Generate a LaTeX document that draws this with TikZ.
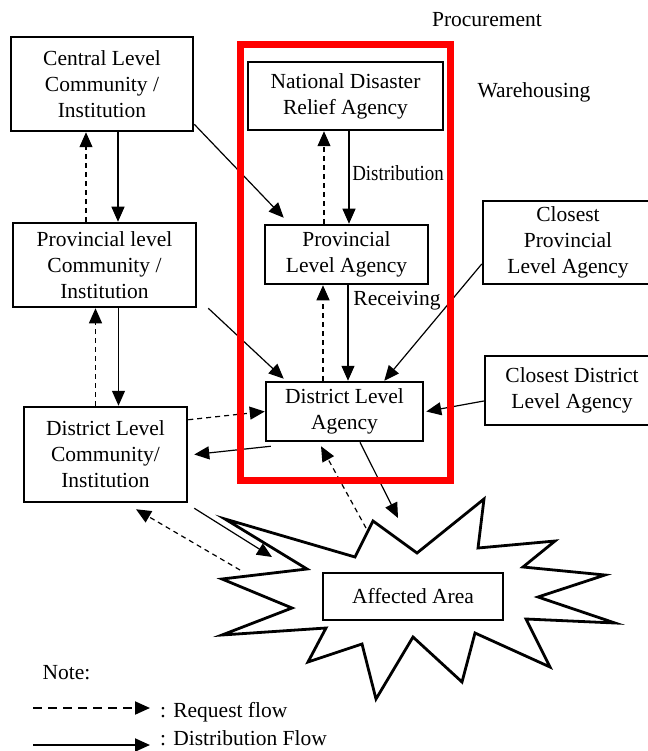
\documentclass[tikz,border=0pt]{standalone}
\usepackage{fontspec}
\setmainfont{Liberation Serif}
\usetikzlibrary{arrows.meta}

\begin{document}
\begin{tikzpicture}[x=1pt, y=-1pt,
    every node/.style={font=\fontsize{21.5}{26}\selectfont},
    agency/.style={draw, line width=2.5pt, align=center, inner sep=0pt},
    flow/.style={line width=1.2pt, -{Triangle[length=15pt, width=13pt]}},
    request/.style={flow, dash pattern=on 5pt off 4pt}]
    % Fixed frame
    \useasboundingbox (0,0) rectangle (647,751);

    % Create nodes
    \node[agency, minimum width=182pt, minimum height=94pt] (central) at (102,84) {Central Level\\Community /\\Institution};
    \node[agency, minimum width=183pt, minimum height=84pt] (provcom) at (104.5,265) {Provincial level\\Community /\\Institution};
    \node[agency, minimum width=163pt, minimum height=95pt] (distcom) at (105.5,454.5) {District Level\\Community/\\Institution};
    \node[agency, minimum width=195pt, minimum height=68pt] (ndra) at (345.5,96) {National Disaster\\Relief Agency};
    \node[agency, minimum width=163pt, minimum height=59pt] (provag) at (346.5,254.5) {Provincial\\Level Agency};
    \node[agency, minimum width=157pt, minimum height=59pt] (distag) at (344.5,411.5) {District Level\\Agency};
    \node[agency, minimum width=170pt, minimum height=83pt] (closeprov) at (568,242.5) {Closest\\Provincial\\Level Agency};
    \node[agency, minimum width=174pt, minimum height=69pt] (closedist) at (572,390.5) {Closest District\\Level Agency};

    \node (procure) at (487,20) {Procurement};
    \node (warehouse) at (534,92) {Warehousing};
    \node (distlab) at (398,173) {\scalebox{0.88}[1]{Distribution}};
    \node (recvlab) at (397,301) {Receiving};

    % Affected area
    \draw[line width=2.8pt] (484,499) -- (478,548) -- (555,541) -- (523,567) -- (605,575)
        -- (538,597) -- (615,623) -- (526,619) -- (550,667) -- (475,633) -- (462,682)
        -- (413,637) -- (376,699) -- (362,644) -- (308,662) -- (326,628) -- (222,635)
        -- (292,608) -- (222,579) -- (307,569) -- (225,519) -- (355,557) -- (373,521)
        -- (417,553) -- cycle;
    \node[agency, minimum width=180pt, minimum height=47pt] (affected) at (413,596.5) {Affected Area};
    \coordinate (reqA) at (366,528);
    \coordinate (flowA) at (398,518);
    \coordinate (flowB) at (272,557);
    \coordinate (reqB) at (240,570);

    % Connections
    \draw[flow] ([xshift=16pt]central.south) -- ([xshift=16pt]central.south |- provcom.north);
    \draw[request] ([xshift=-16pt]central.south |- provcom.north) -- ([xshift=-16pt]central.south);
    \draw[flow] ([xshift=14pt]provcom.south) -- ([xshift=14pt]provcom.south |- distcom.north);
    \draw[request] ([xshift=-9pt]provcom.south |- distcom.north) -- ([xshift=-9pt]provcom.south);
    \draw[flow] ([yshift=8pt]central.south east) -- ([xshift=20pt,yshift=6pt]provag.north west);
    \draw[flow] ([xshift=3.5pt]ndra.south) -- ([xshift=3.5pt]ndra.south |- provag.north);
    \draw[request] ([xshift=-21.5pt]ndra.south |- provag.north) -- ([xshift=-21.5pt]ndra.south);
    \draw[flow] ([xshift=1.5pt]provag.south) -- ([xshift=1.5pt]provag.south |- distag.north);
    \draw[request] ([xshift=-23.5pt]provag.south |- distag.north) -- ([xshift=-23.5pt]provag.south);
    \draw[flow] ([xshift=11pt]provcom.south east) -- ([xshift=19pt,yshift=2pt]distag.north west);
    \draw[flow] ([yshift=-21.5pt]closeprov.west) -- ([xshift=-40pt]distag.north east);
    \draw[flow] ([yshift=-10.5pt]closedist.west) -- ([xshift=2pt]distag.east);
    \draw[request] ([yshift=-14pt]distcom.north east) -- (distag.west);
    \draw[flow] ([xshift=6pt,yshift=-4pt]distag.south west) -- ([xshift=6pt]distcom.east);
    \draw[request] (reqA) -- ([xshift=-23.5pt,yshift=-4pt]distag.south);
    \draw[flow] ([xshift=15.5pt]distag.south) -- (flowA);
    \draw[flow] ([xshift=6pt,yshift=-5pt]distcom.south east) -- (flowB);
    \draw[request] (reqB) -- ([xshift=30.5pt,yshift=-6pt]distcom.south);

    % Agency frame
    \draw[red, line width=7pt] (240,44.5) rectangle (450,480);

    % Note
    \node[anchor=west] (note) at (39,673) {Note:};
    \node[anchor=west, inner sep=1pt] (reqlab) at (159,712) {: Request flow};
    \node[anchor=west, inner sep=1pt] (flowlab) at (159,738) {: Distribution Flow};
    \coordinate (legA) at (33,708);
    \coordinate (legB) at (33,745);
    \draw[request, line width=2pt, dash pattern=on 9pt off 6pt, shorten >=9pt] (legA) -- (legA -| reqlab.west);
    \draw[flow, line width=2pt, shorten >=9pt] (legB) -- (legB -| flowlab.west);
\end{tikzpicture}
\end{document}
